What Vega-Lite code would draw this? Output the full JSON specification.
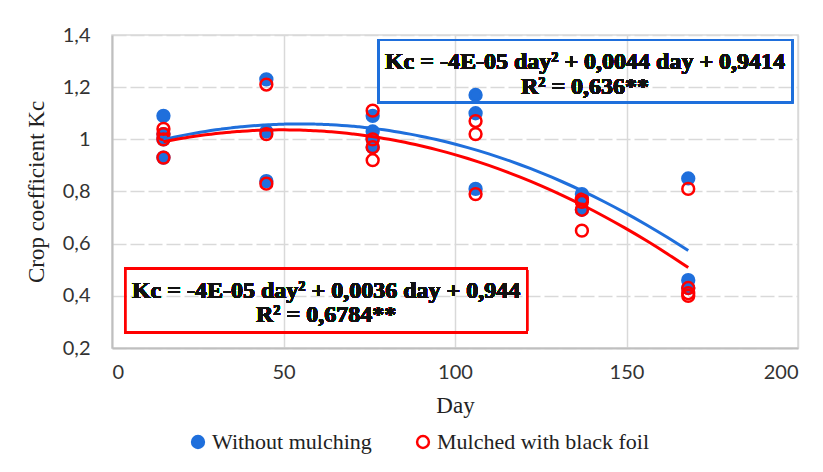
{
  "$schema": "https://vega.github.io/schema/vega-lite/v6.json",
  "width": 686,
  "height": 313,
  "autosize": {"type": "none"},
  "padding": {"left": 112, "top": 35, "right": 25, "bottom": 124},
  "background": "white",
  "config": {
    "view": {"stroke": "#d9d9d9", "strokeWidth": 1.5},
    "axis": {"labelFont": "Lato", "labelFontSize": 20, "labelColor": "#333333", "titleFont": "Liberation Serif", "titleFontSize": 23, "titleFontWeight": "normal", "titleColor": "#222222", "gridColor": "#d9d9d9", "gridWidth": 1.5, "domainColor": "#bfbfbf", "domainWidth": 2, "ticks": false},
    "legend": {"labelFont": "Liberation Serif", "labelFontSize": 22, "labelColor": "#222222", "labelLimit": 0}
  },
  "data": {
    "values": [
      {"day": 15, "kc": 1.09, "series": "Without mulching"},
      {"day": 15, "kc": 1.02, "series": "Without mulching"},
      {"day": 15, "kc": 1.0, "series": "Without mulching"},
      {"day": 15, "kc": 0.93, "series": "Without mulching"},
      {"day": 45, "kc": 1.23, "series": "Without mulching"},
      {"day": 45, "kc": 1.03, "series": "Without mulching"},
      {"day": 45, "kc": 0.84, "series": "Without mulching"},
      {"day": 76, "kc": 1.09, "series": "Without mulching"},
      {"day": 76, "kc": 1.03, "series": "Without mulching"},
      {"day": 76, "kc": 1.0, "series": "Without mulching"},
      {"day": 76, "kc": 0.97, "series": "Without mulching"},
      {"day": 106, "kc": 1.17, "series": "Without mulching"},
      {"day": 106, "kc": 1.1, "series": "Without mulching"},
      {"day": 106, "kc": 0.81, "series": "Without mulching"},
      {"day": 137, "kc": 0.79, "series": "Without mulching"},
      {"day": 137, "kc": 0.77, "series": "Without mulching"},
      {"day": 137, "kc": 0.73, "series": "Without mulching"},
      {"day": 168, "kc": 0.85, "series": "Without mulching"},
      {"day": 168, "kc": 0.46, "series": "Without mulching"},
      {"day": 168, "kc": 0.43, "series": "Without mulching"},
      {"day": 15, "kc": 1.04, "series": "Mulched with black foil"},
      {"day": 15, "kc": 1.02, "series": "Mulched with black foil"},
      {"day": 15, "kc": 1.0, "series": "Mulched with black foil"},
      {"day": 15, "kc": 0.93, "series": "Mulched with black foil"},
      {"day": 45, "kc": 1.21, "series": "Mulched with black foil"},
      {"day": 45, "kc": 1.02, "series": "Mulched with black foil"},
      {"day": 45, "kc": 0.83, "series": "Mulched with black foil"},
      {"day": 76, "kc": 1.11, "series": "Mulched with black foil"},
      {"day": 76, "kc": 1.0, "series": "Mulched with black foil"},
      {"day": 76, "kc": 0.97, "series": "Mulched with black foil"},
      {"day": 76, "kc": 0.92, "series": "Mulched with black foil"},
      {"day": 106, "kc": 1.07, "series": "Mulched with black foil"},
      {"day": 106, "kc": 1.02, "series": "Mulched with black foil"},
      {"day": 106, "kc": 0.79, "series": "Mulched with black foil"},
      {"day": 137, "kc": 0.77, "series": "Mulched with black foil"},
      {"day": 137, "kc": 0.76, "series": "Mulched with black foil"},
      {"day": 137, "kc": 0.73, "series": "Mulched with black foil"},
      {"day": 137, "kc": 0.65, "series": "Mulched with black foil"},
      {"day": 168, "kc": 0.81, "series": "Mulched with black foil"},
      {"day": 168, "kc": 0.43, "series": "Mulched with black foil"},
      {"day": 168, "kc": 0.41, "series": "Mulched with black foil"},
      {"day": 168, "kc": 0.4, "series": "Mulched with black foil"}
    ]
  },
  "layer": [
    {
      "mark": {"type": "point", "shape": "circle", "size": 140, "strokeWidth": 2.5, "opacity": 1},
      "encoding": {
        "x": {"field": "day", "type": "quantitative", "scale": {"domain": [0, 200], "nice": false}, "axis": {"values": [0, 50, 100, 150, 200], "title": "Day", "labelPadding": 14, "titlePadding": 12, "grid": true, "gridDash": []}},
        "y": {"field": "kc", "type": "quantitative", "scale": {"domain": [0.2, 1.4], "nice": false, "zero": false}, "axis": {"values": [0.2, 0.4, 0.6, 0.8, 1.0, 1.2, 1.4], "title": "Crop coefficient  Kc", "labelExpr": "replace(format(datum.value, '.1~f'), '.', ',')", "labelPadding": 22, "titleX": -64, "gridDash": [14, 4]}},
        "stroke": {"field": "series", "type": "nominal", "scale": {"domain": ["Without mulching", "Mulched with black foil"], "range": ["#1f6fdc", "#ff0000"]}, "legend": {"title": null, "orient": "none", "legendX": 75, "legendY": 396, "direction": "horizontal", "labelFont": "Liberation Serif", "labelFontSize": 22, "labelLimit": 0, "symbolSize": 140, "symbolStrokeWidth": 2.5, "columnPadding": 40, "labelOffset": 3}},
        "fill": {"field": "series", "type": "nominal", "scale": {"domain": ["Without mulching", "Mulched with black foil"], "range": ["#1f6fdc", "transparent"]}},
        "order": {"field": "series", "sort": "descending"}
      }
    },
    {
      "transform": [{"regression": "kc", "on": "day", "method": "poly", "order": 2, "groupby": ["series"], "extent": [15, 168]}],
      "mark": {"type": "line", "strokeWidth": 3, "interpolate": "monotone"},
      "encoding": {
        "x": {"field": "day", "type": "quantitative"},
        "y": {"field": "kc", "type": "quantitative"},
        "color": {"field": "series", "type": "nominal", "scale": {"domain": ["Without mulching", "Mulched with black foil"], "range": ["#1f6fdc", "#ff0000"]}, "legend": null}
      }
    },
    {
      "mark": {"type": "rect", "fill": null, "fillOpacity": 0, "stroke": "#1f6fdc", "strokeWidth": 2},
      "encoding": {"x": {"datum": 77.6}, "x2": {"datum": 198.3}, "y": {"datum": 1.381}, "y2": {"datum": 1.142}}
    },
    {
      "mark": {"type": "rect", "fill": null, "fillOpacity": 0, "stroke": "#ff0000", "strokeWidth": 2},
      "encoding": {"x": {"datum": 3.8}, "x2": {"datum": 121}, "y": {"datum": 0.504}, "y2": {"datum": 0.258}}
    },
    {
      "mark": {"type": "text", "font": "Liberation Serif", "fontWeight": "bold", "fontSize": 24, "fill": "#111111", "align": "center", "baseline": "middle"},
      "encoding": {"x": {"datum": 137.9}, "y": {"datum": 1.296}, "text": {"value": "Kc = -4E-05 day² + 0,0044 day + 0,9414"}}
    },
    {
      "mark": {"type": "text", "font": "Liberation Serif", "fontWeight": "bold", "fontSize": 24, "fill": "#111111", "align": "center", "baseline": "middle"},
      "encoding": {"x": {"datum": 137.9}, "y": {"datum": 1.2}, "text": {"value": "R² = 0,636**"}}
    },
    {
      "mark": {"type": "text", "font": "Liberation Serif", "fontWeight": "bold", "fontSize": 24, "fill": "#111111", "align": "center", "baseline": "middle"},
      "encoding": {"x": {"datum": 62.4}, "y": {"datum": 0.419}, "text": {"value": "Kc = -4E-05 day² + 0,0036 day + 0,944"}}
    },
    {
      "mark": {"type": "text", "font": "Liberation Serif", "fontWeight": "bold", "fontSize": 24, "fill": "#111111", "align": "center", "baseline": "middle"},
      "encoding": {"x": {"datum": 62.4}, "y": {"datum": 0.327}, "text": {"value": "R² = 0,6784**"}}
    }
  ]
}
